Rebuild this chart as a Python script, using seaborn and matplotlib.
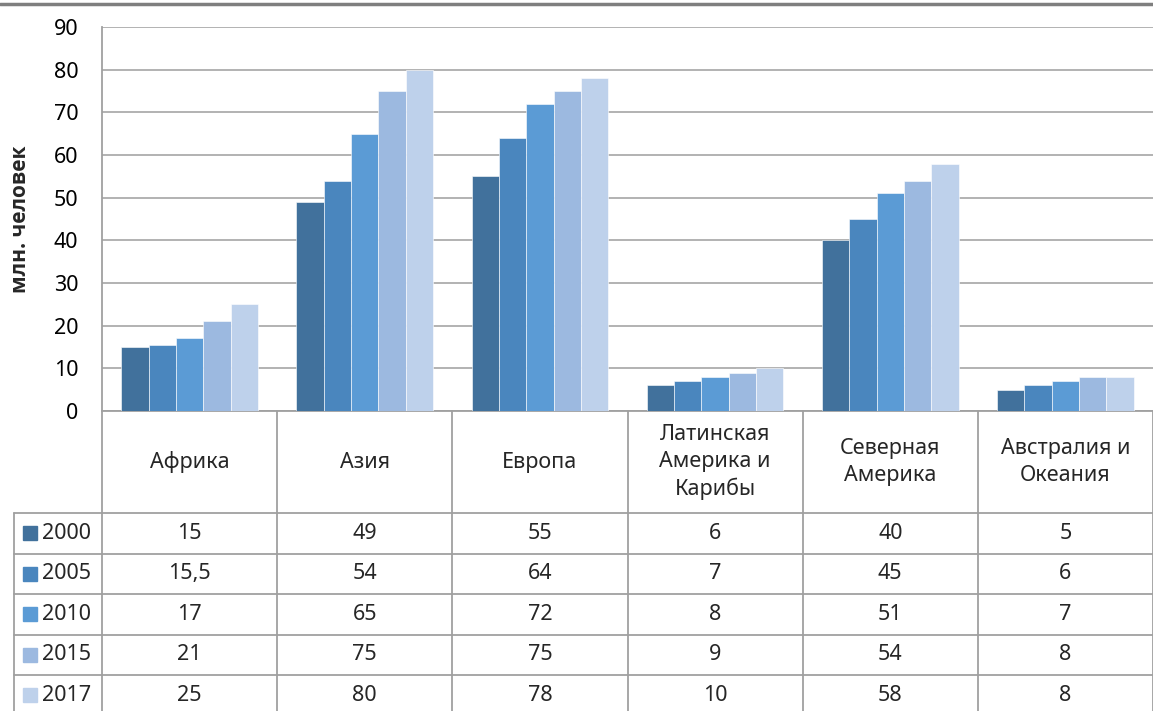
import matplotlib
matplotlib.use("Agg")
import matplotlib.pyplot as plt
from matplotlib.lines import Line2D
import seaborn as sns
import pandas as pd

regions = ["Африка", "Азия", "Европа", "Латинская\nАмерика и\nКарибы",
           "Северная\nАмерика", "Австралия и\nОкеания"]
years = ["2000", "2005", "2010", "2015", "2017"]
v2000 = [15, 49, 55, 6, 40, 5]
v2005 = [15.5, 54, 64, 7, 45, 6]
v2010 = [17, 65, 72, 8, 51, 7]
v2015 = [21, 75, 75, 9, 54, 8]
v2017 = [25, 80, 78, 10, 58, 8]
series = [v2000, v2005, v2010, v2015, v2017]
colors = ["#41719c", "#4a86be", "#5b9bd5", "#9cb9e0", "#bed1eb"]
y_label = "млн. человек"

rows = []
for yr, vals in zip(years, series):
    for r, v in zip(regions, vals):
        rows.append({"region": r, "year": yr, "value": v})
df = pd.DataFrame(rows)

sns.set_theme(style="white")
plt.rcParams["font.family"] = ["Noto Sans", "DejaVu Sans"]

FS = 15.5
W, H = 1153, 711
fig = plt.figure(figsize=(W / 100, H / 100), dpi=100)
left_px, right_px, top_px, bot_px = 102, 1153, 27, 411
ax = fig.add_axes([left_px / W, 1 - bot_px / H, (right_px - left_px) / W, (bot_px - top_px) / H])

sns.barplot(data=df, x="region", y="value", hue="year", hue_order=years,
            order=regions, palette=colors, saturation=1, width=0.78,
            edgecolor="white", linewidth=0.4, ax=ax, legend=False, zorder=3)

ax.set_xlim(-0.5, len(regions) - 0.5)
ax.set_ylim(0, 90)
ax.set_yticks(range(0, 91, 10))
ax.yaxis.grid(True, color="#a6a6a6", linewidth=1.2, zorder=0)
ax.xaxis.grid(False)
ax.set_xticks([])
ax.set_xlabel("")
ax.set_ylabel("")
ax.tick_params(axis="y", length=0, pad=17, labelsize=FS, labelcolor="black")
for s in ["top", "right"]:
    ax.spines[s].set_visible(False)
for s in ["left", "bottom"]:
    ax.spines[s].set_color("#a0a0a0")
    ax.spines[s].set_linewidth(1.3)

fig.text(21 / W, 1 - 219 / H, y_label, rotation=90, ha="center", va="center",
         fontsize=15, fontweight="bold", family=["Open Sans", "DejaVu Sans"])

# Data table below axes
unit = (right_px - left_px) / len(regions)
x0 = -0.5 - left_px / unit
tax = fig.add_axes([0, 0, 1, 1 - bot_px / H])
tax.set_xlim(x0, x0 + W / unit)
tax.set_ylim(H, bot_px)
tax.axis("off")

gc = "#a0a0a0"
legend_left = x0 + 14 / unit
header_bottom = 513
row_h = 40.5
row_tops = [header_bottom + i * row_h for i in range(len(years))]
for k in range(len(regions) + 1):
    tax.plot([k - 0.5, k - 0.5], [bot_px, H], color=gc, lw=1.3, clip_on=False)
tax.plot([legend_left, legend_left], [header_bottom, H], color=gc, lw=1.3)
for yt in row_tops:
    tax.plot([legend_left, len(regions) - 0.5], [yt, yt], color=gc, lw=1.3)

for i, r in enumerate(regions):
    tax.text(i, (bot_px + header_bottom) / 2, r, ha="center", va="center",
             fontsize=FS, linespacing=1.35)

for j, (yr, vals) in enumerate(zip(years, series)):
    yc = row_tops[j] + row_h / 2
    tax.plot([legend_left + 16 / unit], [yc], marker="s", markersize=10,
             color=colors[j], linestyle="none")
    tax.text(legend_left + 28 / unit, yc, yr, ha="left", va="center", fontsize=FS)
    for i, v in enumerate(vals):
        txt = (f"{v:g}").replace(".", ",")
        tax.text(i, yc, txt, ha="center", va="center", fontsize=FS)

fig.add_artist(Line2D([0, 1], [1 - 4 / H, 1 - 4 / H], transform=fig.transFigure,
                      color="#7f7f7f", lw=2.5))

fig.savefig("out.png", dpi=100)
